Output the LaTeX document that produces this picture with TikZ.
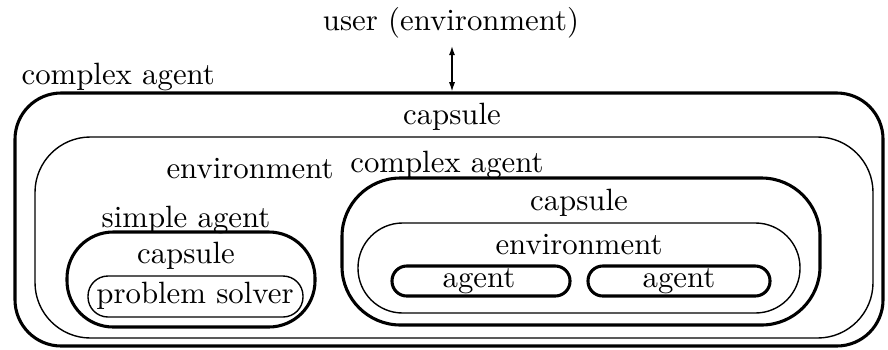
\documentclass[tikz,border=0pt]{standalone}
\usetikzlibrary{fit,arrows.meta}
\begin{document}
\begin{tikzpicture}[x=0.3247pt, y=-0.3247pt,
  thickbox/.style={draw, line width=1pt, inner sep=0pt},
  thinbox/.style={draw, line width=0.45pt, inner sep=0pt},
  lbl/.style={anchor=base, inner sep=0pt, font=\fontsize{10}{12}\selectfont},
  mytip/.tip={Latex[length=3pt,width=2pt]}]
\useasboundingbox (0,0) rectangle (888,349);
% boxes
\node[thickbox, rounded corners=15pt, fit={(15,93) (883,346)}] (outer) {};
\node[thinbox, rounded corners=18pt, fit={(35,137) (873,338)}] (env) {};
\node[thickbox, rounded corners=15pt, fit={(67,232) (315,327)}] (simple) {};
\node[thinbox, rounded corners=6.5pt, fit={(88,276) (303,317)}] (solver) {};
\node[thickbox, rounded corners=19pt, fit={(342,178) (820,325)}] (inner) {};
\node[thinbox, rounded corners=14.5pt, fit={(358,223) (800,313)}] (innerenv) {};
\node[thickbox, rounded corners=4.8pt, fit={(392,266) (570,296)}] (agentL) {};
\node[thickbox, rounded corners=4.8pt, fit={(588,266) (770,296)}] (agentR) {};
% labels
\node[lbl] (user) at (451,30) {user (environment)};
\node[lbl, anchor=base west] (lcagent) at (21,84) {complex agent};
\node[lbl] (lcaps) at (452,124) {capsule};
\node[lbl] (lenv) at (250,178) {environment};
\node[lbl] (lcagent2) at (447,172) {complex agent};
\node[lbl] (lsimple) at (186,227) {simple agent};
\node[lbl] (lcaps2) at (186,263) {capsule};
\node[lbl] (lsolver) at (195,303) {problem solver};
\node[lbl] (lcaps3) at (579,210) {capsule};
\node[lbl] (lenv2) at (579,254) {environment};
\node[lbl] (lagentL) at (479,287) {agent};
\node[lbl] (lagentR) at (679,287) {agent};
% arrow
\coordinate (atop) at (452,46);
\draw[mytip-mytip, line width=0.45pt] (atop) -- (atop |- outer.north);
\end{tikzpicture}
\end{document}
